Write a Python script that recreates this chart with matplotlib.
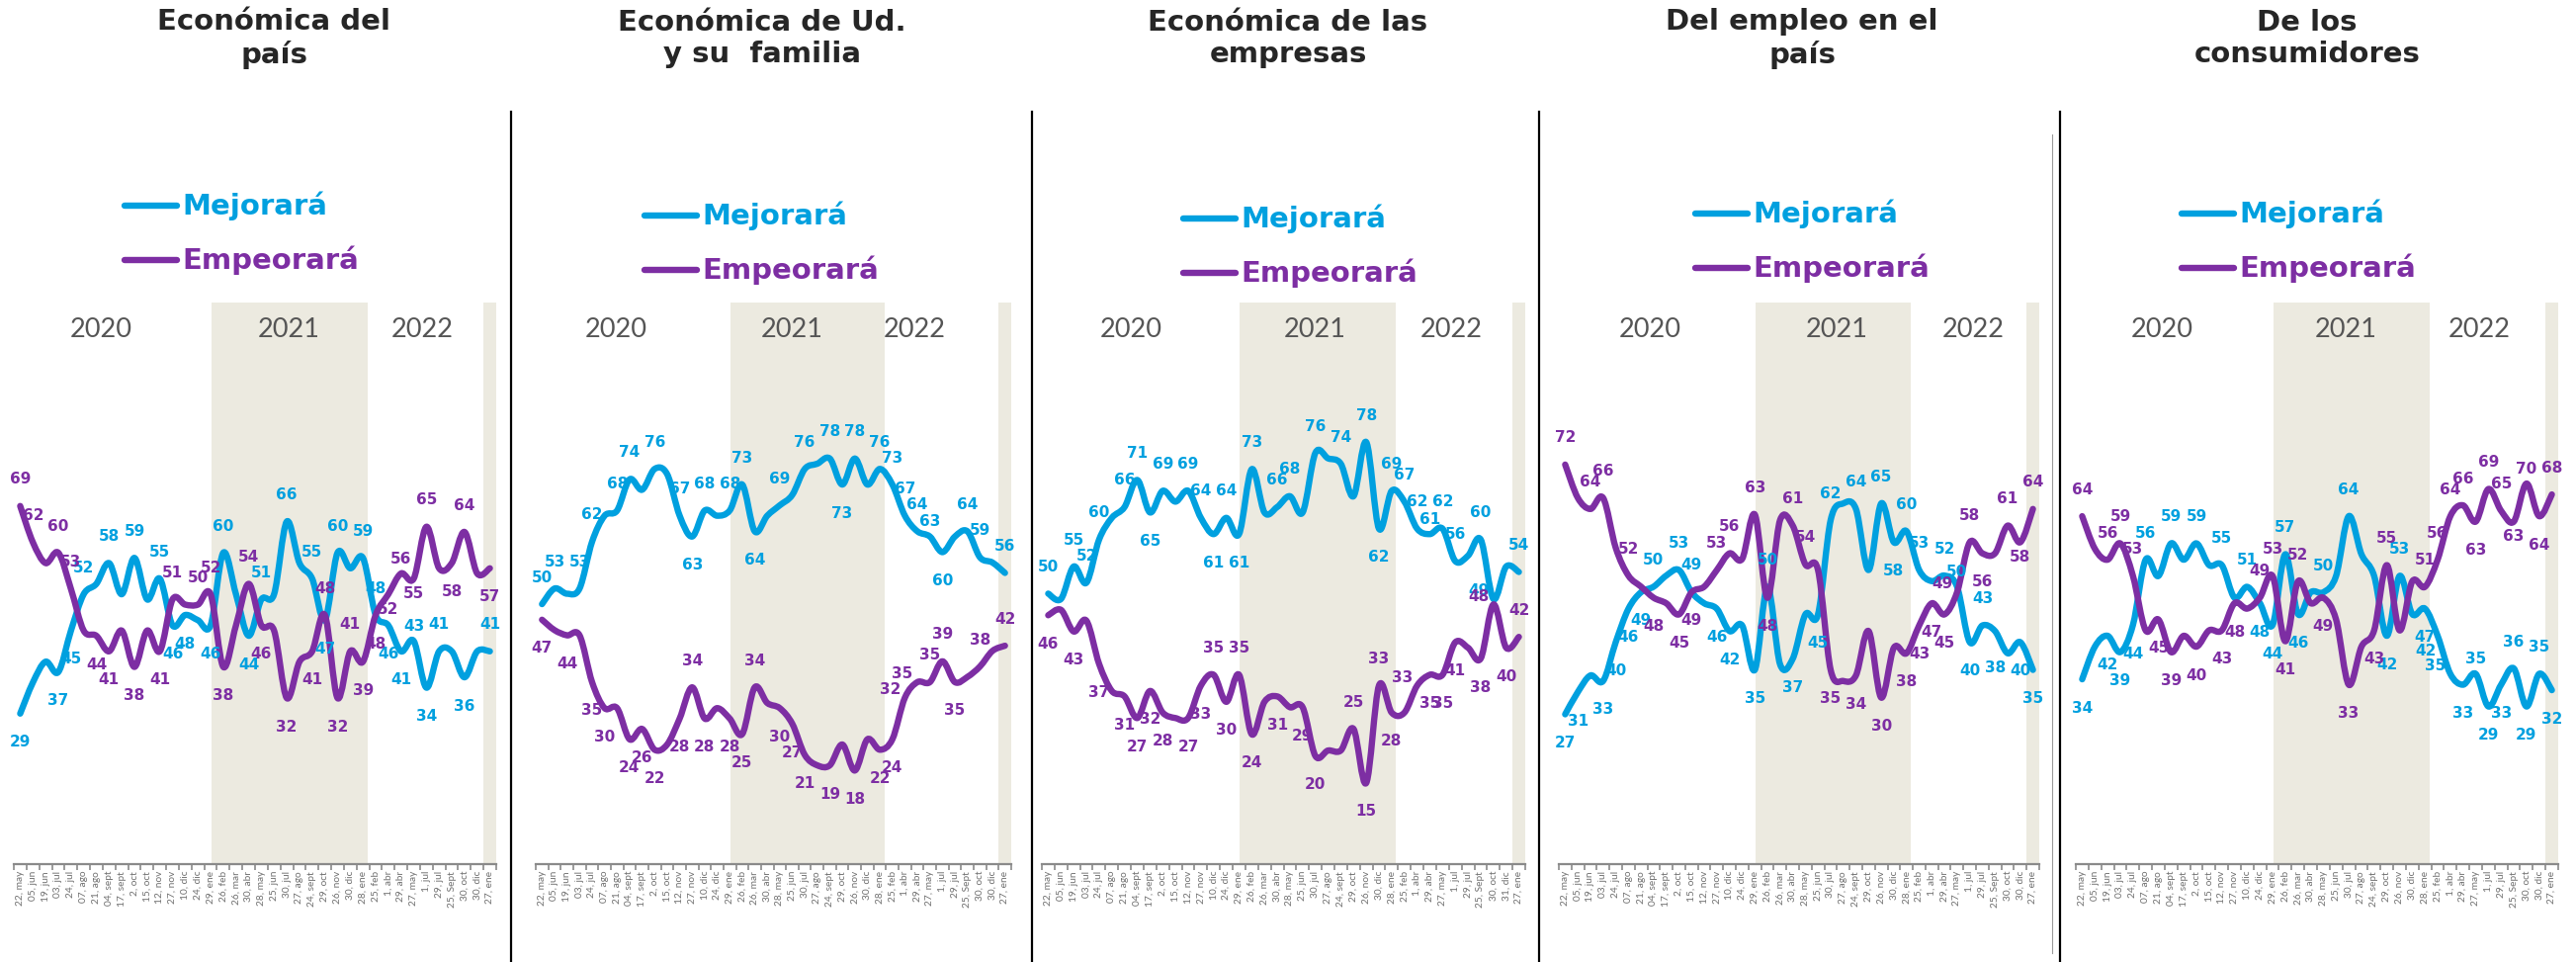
import matplotlib
matplotlib.use("Agg")
import matplotlib.pyplot as plt
from matplotlib.path import Path
from matplotlib.patches import PathPatch
from matplotlib.lines import Line2D

# ---------------- data ----------------
fechas = ["22, may", "05, jun", "19, jun", "03, jul", "24, jul", "07, ago", "21, ago",
          "04, sept", "17, sept", "2, oct", "15, oct", "12, nov", "27, nov", "10, dic",
          "24, dic", "29, ene", "26, feb", "26, mar", "30, abr", "28, may", "25, jun",
          "30, jul", "27, ago", "24, sept", "29, oct", "26, nov", "30, dic", "28, ene",
          "25, feb", "1, abr", "29, abr", "27, may", "1, jul", "29, jul", "25, Sept",
          "30, oct", "30, dic", "27, ene"]
fechas_p3 = fechas[:36] + ["31, dic", "27, ene"]

titulos = ["Económica del\npaís", "Económica de Ud.\ny su  familia",
           "Económica de las\nempresas", "Del empleo en el\npaís", "De los\nconsumidores"]
series_names = ["Mejorará", "Empeorará"]
years = ["2020", "2021", "2022"]

pais_mej = [29, 35, 39, 37, 45, 52, 54, 58, 52, 59, 51, 55, 46, 48, 47, 46, 60, 52, 44, 51,
            52, 66, 58, 55, 47, 60, 57, 59, 48, 46, 41, 43, 34, 41, 41, 36, 41, 41]
pais_emp = [69, 62, 58, 60, 53, 45, 44, 41, 45, 38, 45, 41, 51, 50, 50, 52, 38, 46, 54, 46,
            45, 32, 39, 41, 48, 32, 41, 39, 48, 52, 56, 55, 65, 57, 58, 64, 56, 57]

fam_mej = [50, 53, 52, 53, 62, 67, 68, 74, 72, 76, 75, 67, 63, 68, 67, 68, 73, 64, 67, 69,
           71, 76, 77, 78, 73, 78, 73, 76, 73, 67, 64, 63, 60, 63, 64, 59, 58, 56]
fam_emp = [47, 45, 44, 44, 35, 30, 30, 24, 26, 22, 23, 28, 34, 28, 30, 28, 25, 34, 31, 30,
           27, 21, 19, 19, 23, 18, 24, 22, 24, 32, 35, 35, 39, 35, 36, 38, 41, 42]

emp_mej = [50, 49, 55, 52, 60, 64, 66, 71, 65, 69, 67, 69, 64, 61, 64, 61, 73, 65, 66, 68,
           65, 76, 75, 74, 68, 78, 62, 69, 67, 62, 61, 62, 56, 57, 60, 49, 55, 54]
emp_emp = [46, 47, 43, 45, 37, 32, 31, 27, 32, 28, 27, 27, 33, 35, 30, 35, 24, 30, 31, 29,
           29, 20, 21, 21, 25, 15, 33, 28, 28, 33, 35, 35, 41, 40, 38, 48, 40, 42]

empleo_mej = [27, 31, 34, 33, 40, 46, 49, 50, 52, 53, 49, 47, 46, 42, 43, 35, 50, 36, 37, 45,
              45, 62, 65, 64, 53, 65, 58, 60, 53, 51, 52, 50, 40, 43, 42, 38, 40, 35]
empleo_emp = [72, 66, 64, 66, 57, 52, 50, 48, 47, 45, 49, 50, 53, 56, 55, 63, 48, 62, 61, 54,
              53, 35, 33, 34, 42, 30, 39, 38, 43, 47, 45, 49, 58, 56, 56, 61, 58, 64]

cons_mej = [34, 40, 42, 39, 44, 56, 53, 59, 56, 59, 55, 55, 49, 51, 48, 44, 57, 46, 50, 50,
            53, 64, 57, 53, 42, 53, 46, 47, 42, 35, 33, 35, 29, 33, 36, 29, 35, 32]
cons_emp = [64, 58, 56, 59, 53, 43, 45, 39, 42, 40, 43, 43, 48, 47, 49, 53, 41, 52, 48, 49,
            45, 33, 40, 43, 55, 43, 52, 51, 56, 64, 66, 63, 69, 65, 63, 70, 64, 68]

# ---------------- layout / style ----------------
W, H = 2606, 973
BLUE = "#00A0DF"
PURPLE = "#7D2EA3"
BAND = "#ECEAE0"

# which points carry a value label and where
# a above, b below, A/B close above/below, l left, L left-below
lab_pos = [
    ({0: 'b', 3: 'b', 4: 'b', 5: 'a', 7: 'a', 9: 'a', 11: 'a', 12: 'b', 13: 'b', 15: 'b',
      16: 'a', 18: 'b', 19: 'a', 21: 'a', 23: 'a', 24: 'b', 25: 'a', 27: 'a', 28: 'a',
      29: 'b', 30: 'b', 31: 'A', 32: 'b', 33: 'a', 35: 'b', 37: 'a'},
     {0: 'a', 1: 'a', 3: 'a', 4: 'a', 6: 'b', 7: 'b', 9: 'b', 11: 'b', 12: 'a', 14: 'a',
      15: 'a', 16: 'b', 18: 'a', 19: 'b', 21: 'b', 23: 'b', 24: 'a', 25: 'b', 26: 'a',
      27: 'b', 28: 'b', 29: 'B', 30: 'A', 31: 'B', 32: 'a', 34: 'b', 35: 'a', 37: 'b'}),
    ({0: 'a', 1: 'a', 3: 'a', 4: 'a', 6: 'a', 7: 'a', 9: 'a', 11: 'a', 12: 'b', 13: 'a',
      15: 'a', 16: 'a', 17: 'b', 19: 'a', 21: 'a', 23: 'a', 24: 'b', 25: 'a', 27: 'a',
      28: 'a', 29: 'a', 30: 'a', 31: 'A', 32: 'b', 34: 'a', 35: 'a', 37: 'a'},
     {0: 'b', 2: 'b', 4: 'b', 5: 'b', 7: 'b', 8: 'b', 9: 'b', 11: 'b', 12: 'a', 13: 'b',
      15: 'b', 16: 'b', 17: 'a', 19: 'b', 20: 'b', 21: 'b', 23: 'b', 25: 'b', 27: 'b',
      28: 'b', 29: 'l', 30: 'l', 31: 'a', 32: 'a', 33: 'b', 35: 'a', 37: 'a'}),
    ({0: 'a', 2: 'a', 3: 'a', 4: 'a', 6: 'a', 7: 'a', 8: 'b', 9: 'a', 11: 'a', 12: 'a',
      13: 'b', 14: 'a', 15: 'b', 16: 'a', 18: 'a', 19: 'a', 21: 'a', 23: 'a', 25: 'a',
      26: 'b', 27: 'a', 28: 'a', 29: 'a', 30: 'A', 31: 'a', 32: 'a', 34: 'a', 35: 'l',
      37: 'a'},
     {0: 'b', 2: 'b', 4: 'b', 6: 'b', 7: 'b', 8: 'b', 9: 'b', 11: 'b', 12: 'b', 13: 'a',
      14: 'b', 15: 'a', 16: 'b', 18: 'b', 20: 'b', 21: 'b', 24: 'a', 25: 'b', 26: 'a',
      27: 'b', 29: 'l', 30: 'b', 31: 'b', 32: 'b', 34: 'b', 35: 'l', 36: 'b', 37: 'a'}),
    ({0: 'b', 1: 'b', 3: 'b', 4: 'b', 5: 'b', 6: 'b', 7: 'a', 9: 'a', 10: 'a', 12: 'b',
      13: 'b', 15: 'b', 16: 'a', 18: 'b', 20: 'b', 21: 'a', 23: 'a', 25: 'a', 26: 'b',
      27: 'a', 28: 'a', 30: 'a', 31: 'A', 32: 'b', 33: 'a', 35: 'L', 36: 'b', 37: 'b'},
     {0: 'a', 2: 'a', 3: 'a', 5: 'a', 7: 'b', 9: 'b', 10: 'b', 12: 'a', 13: 'a', 15: 'a',
      16: 'b', 18: 'a', 19: 'a', 21: 'b', 23: 'b', 25: 'b', 27: 'b', 28: 'b', 29: 'b',
      30: 'b', 31: 'l', 32: 'a', 33: 'b', 35: 'a', 36: 'B', 37: 'a'}),
    ({0: 'b', 2: 'b', 3: 'b', 4: 'b', 5: 'a', 7: 'a', 9: 'a', 11: 'a', 13: 'a', 14: 'b',
      15: 'b', 16: 'a', 17: 'b', 19: 'a', 21: 'a', 24: 'b', 25: 'a', 27: 'b', 28: 'L',
      29: 'l', 30: 'b', 31: 'A', 32: 'b', 33: 'b', 34: 'a', 35: 'b', 36: 'a', 37: 'b'},
     {0: 'a', 2: 'a', 3: 'a', 4: 'a', 6: 'b', 7: 'b', 9: 'b', 11: 'b', 12: 'b', 14: 'a',
      15: 'a', 16: 'b', 17: 'a', 19: 'b', 21: 'b', 23: 'b', 24: 'a', 27: 'a', 28: 'a',
      29: 'a', 30: 'a', 31: 'b', 32: 'a', 33: 'a', 34: 'B', 35: 'A', 36: 'b', 37: 'a'}),
]

offsets = {"a": (0, 27), "b": (0, -29), "A": (0, 15), "B": (0, -15),
           "l": (-15, 8), "L": (-12, -15)}

panels = [
    dict(x0=14, x1=502, ymax=108.2, data=(pais_mej, pais_emp), labels=fechas,
         yearx=(6.4, 21.15, 31.7), leg=(126, 208)),
    dict(x0=542, x1=1023, ymax=108.0, data=(fam_mej, fam_emp), labels=fechas,
         yearx=(5.9, 20.0, 29.75), leg=(652, 218)),
    dict(x0=1054, x1=1543, ymax=103.8, data=(emp_mej, emp_emp), labels=fechas_p3,
         yearx=(6.5, 21.0, 31.7), leg=(1197, 221)),
    dict(x0=1577, x1=2063, ymax=101.2, data=(empleo_mej, empleo_emp), labels=fechas,
         yearx=(6.7, 21.5, 32.3), leg=(1715, 216)),
    dict(x0=2100, x1=2588, ymax=103.3, data=(cons_mej, cons_emp), labels=fechas,
         yearx=(6.3, 20.8, 31.3), leg=(2207, 216)),
]
title_cx = [277, 771, 1303, 1823, 2334]
AX_TOP, AX_BOT = 306, 874


def fx(x):
    return x / W


def fy(y):
    return 1 - y / H


def smooth_path(xs, ys):
    pts = list(zip(xs, ys))
    n = len(pts)
    verts = [pts[0]]
    codes = [Path.MOVETO]
    for i in range(n - 1):
        p0 = pts[i - 1] if i > 0 else pts[i]
        p1 = pts[i]
        p2 = pts[i + 1]
        p3 = pts[i + 2] if i + 2 < n else pts[i + 1]
        c1 = (p1[0] + (p2[0] - p0[0]) / 6.0, p1[1] + (p2[1] - p0[1]) / 6.0)
        c2 = (p2[0] - (p3[0] - p1[0]) / 6.0, p2[1] - (p3[1] - p1[1]) / 6.0)
        verts += [c1, c2, p2]
        codes += [Path.CURVE4] * 3
    return Path(verts, codes)


fig = plt.figure(figsize=(W / 100, H / 100), dpi=100)
fig.patch.set_facecolor("white")

for k, p in enumerate(panels):
    ax = fig.add_axes([fx(p["x0"]), fy(AX_BOT), (p["x1"] - p["x0"]) / W,
                       (AX_BOT - AX_TOP) / H])
    n = len(p["labels"])
    xs = list(range(n))
    ax.set_xlim(-0.5, n - 0.5)
    ax.set_ylim(0, p["ymax"])
    ax.axvspan(15.05, 27.35, color=BAND, lw=0, zorder=0)
    ax.axvspan(36.5, 37.5, color=BAND, lw=0, zorder=0)
    for s in ["top", "right", "left"]:
        ax.spines[s].set_visible(False)
    ax.spines["bottom"].set_color("#8a8a8a")
    ax.spines["bottom"].set_linewidth(1.6)
    ax.set_yticks([])
    ax.set_xticks(xs)
    ax.set_xticklabels(p["labels"], rotation=90, fontsize=7.3, color="#707070",
                       family=["Lato", "DejaVu Sans"])
    ax.tick_params(axis="x", which="major", length=0, pad=5)
    ax.set_xticks([i - 0.5 for i in range(n + 1)], minor=True)
    ax.tick_params(axis="x", which="minor", length=4, width=1.2, color="#8a8a8a")
    ax.patch.set_alpha(0)

    for yr, xv in zip(years, p["yearx"]):
        ax.text(xv, 0.952, yr, transform=ax.get_xaxis_transform(), ha="center",
                va="center", fontsize=19.5, color="#555555", fontweight="normal",
                family=["Lato", "DejaVu Sans"])

    for sidx, (vals, col) in enumerate(zip(p["data"], (BLUE, PURPLE))):
        path = smooth_path(xs, vals)
        ax.add_patch(PathPatch(path, fill=False, edgecolor=col, lw=4.6,
                               capstyle="round", joinstyle="round", zorder=3 + sidx))
        spec = lab_pos[k][sidx]
        for i, v in enumerate(vals):
            if i in spec:
                dx, dy = offsets[spec[i]]
                ax.annotate(str(v), (i, v), xytext=(dx, dy), textcoords="offset pixels",
                            ha="center", va="center", fontsize=11, fontweight="bold",
                            color=col, zorder=6, annotation_clip=False)

    # legend
    lx, ly = p["leg"]
    for j, (name, col) in enumerate(zip(series_names, (BLUE, PURPLE))):
        yy = ly + 55 * j
        fig.add_artist(Line2D([fx(lx), fx(lx + 53)], [fy(yy), fy(yy)], color=col,
                              lw=4.6, solid_capstyle="round"))
        fig.text(fx(lx + 58), fy(yy), name, ha="left", va="center", fontsize=21,
                 fontweight="bold", color=col)

    fig.text(fx(title_cx[k]), fy(39), titulos[k], ha="center", va="center",
             fontsize=21, fontweight="bold", color="#262626", linespacing=1.2)

# separators
for xsep in [517, 1044, 1557, 2084]:
    fig.add_artist(Line2D([fx(xsep), fx(xsep)], [fy(113), fy(973)], color="black", lw=1.6))
fig.add_artist(Line2D([fx(2076), fx(2076)], [fy(136), fy(964)], color="#9a9a9a", lw=0.8))

fig.savefig("out.png", dpi=100, facecolor="white")
